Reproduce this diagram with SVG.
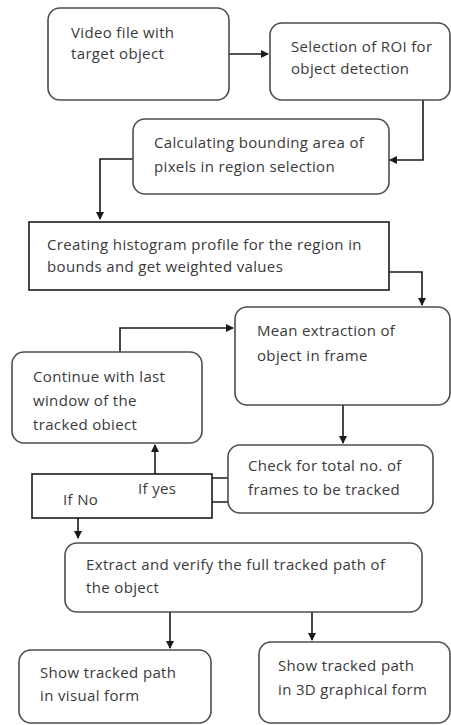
<svg xmlns="http://www.w3.org/2000/svg" width="451" height="725" viewBox="0 0 451 725">
<defs>
<marker id="ah" markerWidth="8" markerHeight="8" refX="7" refY="4" orient="auto" markerUnits="userSpaceOnUse">
<path d="M0,0 L8,4 L0,8 Z" fill="#1a1a1a"/>
</marker>
<style>
.box{fill:#fff;stroke:#4d4d4d;stroke-width:1.6}
.sq{fill:#fff;stroke:#1a1a1a;stroke-width:1.6}
.t{font-family:"Open Sans","Liberation Sans",sans-serif;font-size:15px;letter-spacing:0.35px;fill:#3a3a3a}
.c{fill:none;stroke:#1a1a1a;stroke-width:1.6}
</style>
</defs>
<rect width="451" height="725" fill="#fff"/>
<g id="connectors">
<path class="c" d="M229,54 H268" marker-end="url(#ah)"/>
<path class="c" d="M423,100 V160 H390" marker-end="url(#ah)"/>
<path class="c" d="M133,159 H100 V219" marker-end="url(#ah)"/>
<path class="c" d="M389,272 H422 V305" marker-end="url(#ah)"/>
<path class="c" d="M343,405 V443" marker-end="url(#ah)"/>
<path class="c" d="M120,352 V328 H233" marker-end="url(#ah)"/>
<path class="c" d="M155,474 V445" marker-end="url(#ah)"/>
<path class="c" d="M212,478 H228 M212,502 H228"/>
<path class="c" d="M78,518 V538" marker-end="url(#ah)"/>
<path class="c" d="M170,612 V648" marker-end="url(#ah)"/>
<path class="c" d="M312,612 V640" marker-end="url(#ah)"/>
</g>
<g id="n1"><rect class="box" x="48" y="8" width="181" height="92" rx="12"/>
<text class="t" x="71" y="38">Video file with</text><text class="t" x="71" y="59">target object</text></g>
<g id="n2"><rect class="box" x="270" y="23" width="180" height="77" rx="12"/>
<text class="t" x="291" y="52">Selection of ROI for</text><text class="t" x="291" y="74">object detection</text></g>
<g id="n3"><rect class="box" x="133" y="119" width="256" height="75" rx="12"/>
<text class="t" x="154" y="148">Calculating bounding area of</text><text class="t" x="154" y="172">pixels in region selection</text></g>
<g id="n4"><rect class="sq" x="29" y="222" width="360" height="68"/>
<text class="t" x="47" y="250">Creating histogram profile for the region in</text><text class="t" x="47" y="272">bounds and get weighted values</text></g>
<g id="n5"><rect class="box" x="235" y="307" width="215" height="98" rx="12"/>
<text class="t" x="257" y="336">Mean extraction of</text><text class="t" x="257" y="361">object in frame</text></g>
<g id="n6"><rect class="box" x="12" y="352" width="190" height="91" rx="12"/>
<text class="t" x="33" y="382">Continue with last</text><text class="t" x="33" y="406">window of the</text><text class="t" x="33" y="430">tracked obiect</text></g>
<g id="n7"><rect class="box" x="228" y="445" width="205" height="68" rx="12"/>
<text class="t" x="248" y="471">Check for total no. of</text><text class="t" x="248" y="495">frames to be tracked</text></g>
<g id="n8"><rect class="sq" x="32" y="474" width="180" height="44"/>
<text class="t" x="138" y="494">If yes</text><text class="t" x="63" y="505">If No</text></g>
<g id="n9"><rect class="box" x="65" y="543" width="357" height="69" rx="12"/>
<text class="t" x="86" y="570">Extract and verify the full tracked path of</text><text class="t" x="86" y="593">the object</text></g>
<g id="n10"><rect class="box" x="19" y="650" width="192" height="73" rx="12"/>
<text class="t" x="40" y="678">Show tracked path</text><text class="t" x="40" y="701">in visual form</text></g>
<g id="n11"><rect class="box" x="259" y="642" width="191" height="81" rx="12"/>
<text class="t" x="278" y="671">Show tracked path</text><text class="t" x="278" y="695">in 3D graphical form</text></g>
</svg>
